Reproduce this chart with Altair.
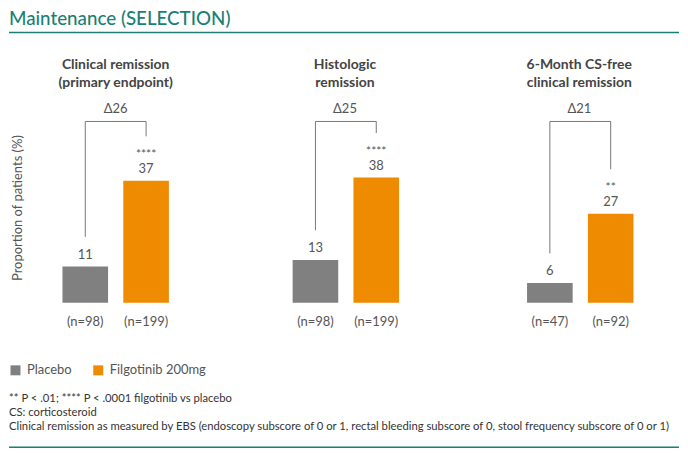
import altair as alt
import pandas as pd

# ---------------- data ----------------
panel_titles = [
    ["Clinical remission", "(primary endpoint)"],
    ["Histologic", "remission"],
    ["6-Month CS-free", "clinical remission"],
]
groups = ["Placebo", "Filgotinib 200mg"]
placebo = [11, 13, 6]
filgotinib = [37, 38, 27]
n_placebo = [98, 98, 47]
n_filgotinib = [199, 199, 92]
deltas = [26, 25, 21]
stars = ["****", "****", "**"]
colors = ["#808080", "#EE8B00"]
main_title = "Maintenance (SELECTION)"
y_title = "Proportion of patients (%)"
footnotes = [
    "** P < .01; **** P < .0001 filgotinib vs placebo",
    "CS: corticosteroid",
    "Clinical remission as measured by EBS (endoscopy subscore of 0 or 1, rectal bleeding subscore of 0, stool frequency subscore of 0 or 1)",
]

# ---------------- style / layout ----------------
FONT = "Lato"
TEAL = "#1A7F74"
TEXT = "#555555"
TITLE_C = "#444444"
PANEL_W = [214, 214, 206]
PANEL_OUTER = [0.879, 0.879, 0.8135]
PANEL_ALIGN = [0.5, 0.48, 0.54]
TITLE_DX = [0, -3, 3]
PANEL_H = 205
YMAX = 62
BRACKET = 55
FULL_W = 672


def yenc(axis=None):
    return alt.Y("value:Q", scale=alt.Scale(domain=[0, YMAX], nice=False, zero=True), axis=axis)


def panel(i):
    df = pd.DataFrame({"group": groups, "value": [placebo[i], filgotinib[i]]})
    label_expr = (
        f"datum.value == '{groups[0]}' ? '(n={n_placebo[i]})' : '(n={n_filgotinib[i]})'"
    )
    xs = alt.Scale(domain=groups, paddingInner=0.25, paddingOuter=PANEL_OUTER[i],
                   align=PANEL_ALIGN[i])
    x = alt.X(
        "group:N",
        sort=groups,
        scale=xs,
        axis=alt.Axis(
            title=None, labelExpr=label_expr, labelAngle=0, domain=False, ticks=False,
            labelPadding=13, labelFontSize=13, labelColor=TEXT, labelFont=FONT,
        ),
    )
    xplain = alt.X("group:N", sort=groups, scale=xs)

    base = alt.Chart(df)
    bars = base.mark_bar().encode(
        x=x,
        y=yenc(),
        color=alt.Color(
            "group:N",
            scale=alt.Scale(domain=groups, range=colors),
            legend=alt.Legend(
                title=None, orient="none", legendX=0, legendY=356, direction="horizontal",
                symbolType="square", symbolSize=100, symbolStrokeWidth=0,
                labelFont=FONT, labelFontSize=13, labelColor=TEXT,
                columnPadding=20, labelOffset=5,
            ),
        ),
    )
    values = base.mark_text(
        baseline="alphabetic", dy=-8, font=FONT, fontSize=13, color=TEXT
    ).encode(x=xplain, y=yenc(), text="value:Q")

    star_df = pd.DataFrame({"group": [groups[1]], "value": [filgotinib[i]], "s": [stars[i]]})
    star_txt = alt.Chart(star_df).mark_text(
        baseline="alphabetic", dy=-23, font=FONT, fontSize=12, color=TEXT
    ).encode(x=xplain, y=yenc(), text="s:N")

    br_df = pd.DataFrame({
        "group": [groups[0], groups[0], groups[1], groups[1]],
        "value": [placebo[i] + 9, BRACKET, BRACKET, filgotinib[i] + 13.5],
        "o": [0, 1, 2, 3],
    })
    bracket = alt.Chart(br_df).mark_line(color="#777777", strokeWidth=1).encode(
        x=xplain, y=yenc(), order="o:Q"
    )

    d_df = pd.DataFrame({"d": [f"Δ{deltas[i]}"], "value": [BRACKET]})
    delta = alt.Chart(d_df).mark_text(
        baseline="alphabetic", dy=-8, dx=TITLE_DX[i], font=FONT, fontSize=13, color=TEXT
    ).encode(x=alt.value(PANEL_W[i] / 2), y=yenc(), text="d:N")

    layers = [bars, values, star_txt, bracket, delta]
    if i == 0:
        yt_df = pd.DataFrame({"t": [y_title]})
        ytitle = alt.Chart(yt_df).mark_text(
            angle=270, align="center", baseline="middle", font=FONT, fontSize=13, color=TEXT
        ).encode(x=alt.value(9), y=alt.value(110), text="t:N")
        layers.append(ytitle)

    return alt.layer(*layers).properties(
        width=PANEL_W[i],
        height=PANEL_H,
        title=alt.TitleParams(
            panel_titles[i], font=FONT, fontSize=14, fontWeight="bold", color=TITLE_C,
            anchor="middle", frame="group", lineHeight=18, offset=8, dx=TITLE_DX[i],
        ),
    )


header_df = pd.DataFrame({"t": [main_title]})
header = alt.layer(
    alt.Chart(header_df).mark_text(
        align="left", baseline="alphabetic", font=FONT, fontSize=18.8, fontWeight=500,
        color=TEAL,
    ).encode(x=alt.value(0), y=alt.value(16), text="t:N"),
    alt.Chart(header_df).mark_rule(color=TEAL, strokeWidth=1.5).encode(
        x=alt.value(0), x2=alt.value(FULL_W), y=alt.value(24)
    ),
).properties(width=FULL_W, height=28)

foot_df = pd.DataFrame({"line": footnotes, "row": [0, 1, 2]})
footer = alt.layer(
    alt.Chart(foot_df).mark_text(
        align="left", baseline="middle", font=FONT, fontSize=11.3, color="#333333"
    ).encode(
        x=alt.value(0),
        y=alt.Y("row:O", axis=None, scale=alt.Scale(type="point", range=[49, 77], padding=0)),
        text="line:N",
    ),
    alt.Chart(header_df).mark_rule(color=TEAL, strokeWidth=1.5).encode(
        x=alt.value(0), x2=alt.value(FULL_W), y=alt.value(97)
    ),
).properties(width=FULL_W, height=98)

panels = alt.hconcat(panel(0), panel(1), panel(2), spacing=19)

chart = alt.vconcat(header, panels, footer, spacing=22).properties(
    padding=0, background="white"
).configure_view(stroke=None)

chart.save("out.html", embed_options={"renderer": "svg", "actions": False})
